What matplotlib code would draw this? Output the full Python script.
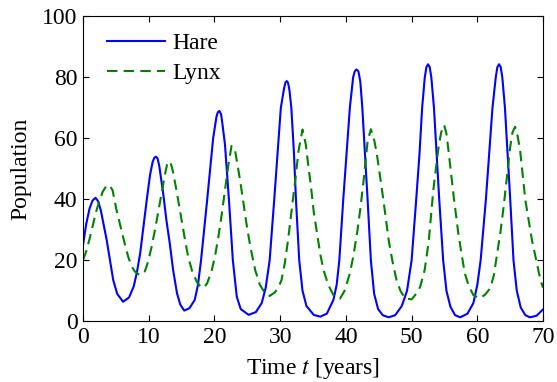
import matplotlib
matplotlib.use("Agg")
import matplotlib.pyplot as plt

plt.rcParams['font.family'] = ['Liberation Serif', 'DejaVu Serif']
plt.rcParams['mathtext.fontset'] = 'stix'

# hare population (time in years)
hare_t = [0, 0.5, 1.0, 1.45, 1.9, 2.3, 2.7, 3.3, 3.6, 4.1, 4.6, 5.2, 6.1, 7.0, 7.7, 8.2,
          8.7, 9.2, 9.7, 10.2, 10.6, 10.85, 11.1, 11.35, 11.6, 12.2, 12.7, 13.2, 13.7,
          14.3, 14.8, 15.4, 16.2, 17.0, 17.5, 17.96, 18.9, 19.8, 20.3, 20.5, 20.75,
          21.0, 21.2, 21.6, 22.2, 22.8, 23.4, 24.0, 25.2, 26.3, 27.2, 27.8, 28.4,
          29.1, 29.6, 30.1, 30.6, 30.8, 31.0, 31.2, 31.4, 31.7, 32.1, 32.4, 32.9,
          33.4, 34.0, 35.1, 36.1, 37.1, 38.1, 38.6, 39.0, 39.6, 40.1, 40.6, 41.1,
          41.35, 41.6, 41.9, 42.2, 42.5, 42.9, 43.3, 43.8, 44.3, 44.9, 45.6, 46.5,
          47.5, 48.5, 49.3, 50.0, 50.7, 51.2, 51.6, 52.0, 52.25, 52.5, 52.75, 53.0,
          53.4, 53.8, 54.2, 54.8, 55.3, 55.9, 56.6, 57.4, 58.5, 59.4, 60.0, 60.5,
          61.3, 61.8, 62.3, 62.8, 63.05, 63.3, 63.55, 63.8, 64.2, 64.6, 65.0, 65.5,
          66.0, 66.6, 67.3, 68.0, 69.0, 70.0]
hare = [25.0, 32, 37, 39.6, 40.5, 39.4, 36.5, 30, 26.7, 20, 13.5, 9, 6.4, 7.8, 11.3, 16,
        22.3, 31, 39.8, 48, 52.3, 53.6, 54, 53.4, 51, 42, 33, 25.6, 17,
        9.2, 5.5, 3.5, 4.3, 7, 12, 20, 40, 60, 67, 68.5, 69,
        68, 65, 58, 40, 20, 8, 4, 2.1, 3, 6, 11, 20,
        40, 55, 70, 76.5, 78.3, 78.8, 78.2, 76, 70, 55, 40, 20,
        10, 5, 2.1, 1.5, 2.5, 7, 12, 20, 40, 55, 70, 80,
        82, 82.6, 82, 78.5, 70, 55, 40, 20, 9, 4, 2, 1.3,
        2, 5, 10, 20, 40, 55, 70, 80, 83.4, 84.3, 83.4, 80,
        70, 55, 40, 20, 10, 4.8, 2, 1.3, 2.5, 6, 12, 20,
        40, 55, 70, 80, 83.4, 84.3, 83.4, 80, 70, 55, 40, 20,
        10, 4.5, 2, 1.3, 1.8, 3.9]

# lynx population
lynx_t = [0, 0.5, 1, 1.5, 2, 2.5, 3, 3.5, 4.0, 4.5, 5.07, 5.5, 5.94, 6.4, 6.9, 7.4, 7.9,
          8.6, 9.0, 9.4, 9.9, 10.45, 11.0, 11.5, 12.0, 12.5, 12.8, 13.1, 13.4, 13.7,
          14.3, 15.0, 15.5, 16.0, 16.6, 17.3, 17.9, 18.4, 18.9, 19.6, 20.1, 20.6,
          21.1, 21.6, 22.1, 22.6, 23.1, 23.9, 24.4, 24.9, 25.5, 26.2, 26.9, 27.7,
          28.4, 29.2, 29.7, 30.2, 30.7, 31.2, 31.7, 32.3, 32.8, 33.4, 33.9, 34.3,
          34.7, 35.1, 35.6, 36.1, 36.6, 37.3, 38.1, 39.1, 39.8, 40.6, 41.1, 41.7,
          42.2, 42.7, 43.3, 43.8, 44.3, 44.7, 45.1, 45.5, 46.0, 46.5, 47.1, 47.7,
          48.3, 49.0, 50.0, 50.7, 51.3, 52.0, 52.6, 53.3, 53.7, 54.1, 54.5, 54.95,
          55.3, 55.6, 56.0, 56.4, 57.1, 57.6, 58.1, 58.7, 59.4, 60.4, 61.2, 61.95,
          62.5, 62.95, 63.5, 64.0, 64.5, 65.0, 65.35, 65.75, 66.1, 66.5, 66.9, 67.3,
          68.3, 69.0, 69.6, 70.0]
lynx = [20.1, 23, 27, 31.5, 36, 39.5, 42.5, 44.2, 44.7, 43, 36.8, 33, 29.2, 25, 21, 18, 16.3,
        15.2, 15.4, 16.3, 19.5, 24.5, 30.5, 36.5, 42.5, 48.5, 51.5, 52.5, 51.5, 49,
        42, 33.2, 27, 21.2, 16.5, 13, 11.3, 11, 12.5, 16.8, 21.5, 27.7,
        35, 43, 51, 57.5, 56.5, 46.3, 39, 31.6, 24, 16.8, 12, 9.2,
        8.3, 9.5, 11, 13.5, 19, 26.7, 35.5, 46.3, 56, 62.9, 58, 50.7,
        44, 36, 29, 22, 16.8, 12, 8.6, 7.4, 10, 15.7, 21, 28.9,
        37, 46.3, 59, 63, 59.5, 55, 49, 43, 35, 26.7, 19.5, 13.5,
        10, 7.5, 7.2, 9, 11.3, 17, 26.2, 43, 50, 57.2, 62, 64.4,
        61.5, 56.2, 48.5, 40.9, 28.9, 22, 15.7, 11.5, 8.6, 7.5, 8.8, 10.8,
        15, 21.2, 29, 37.6, 47.5, 57.2, 62, 63.8, 61, 56.2, 48, 39.8,
        26.7, 19.5, 13.5, 11]

fig = plt.figure(figsize=(5.57, 3.82), dpi=100)
ax = fig.add_axes([0.149, 0.159, 0.826, 0.798])

ax.plot(hare_t, hare, color='#0000ff', lw=1.5, label='Hare')
l2, = ax.plot(lynx_t, lynx, color='#008000', lw=1.5, label='Lynx')
l2.set_dashes((5, 3))

ax.set_xlim(0, 70)
ax.set_ylim(0, 100)
ax.set_xticks(range(0, 71, 10))
ax.set_yticks(range(0, 101, 20))
ax.tick_params(direction='in', top=True, right=True, labelsize=17, length=4, pad=4)
ax.set_xlabel('Time $t$ [years]', fontsize=17, labelpad=6)
ax.set_ylabel('Population', fontsize=17, labelpad=8)

ax.legend(loc='upper left', bbox_to_anchor=(0.017, 1.0), frameon=False, fontsize=17,
          handlelength=2.45, borderaxespad=0.3, labelspacing=0.35, handletextpad=0.3)

fig.savefig('out.png', dpi=100)
